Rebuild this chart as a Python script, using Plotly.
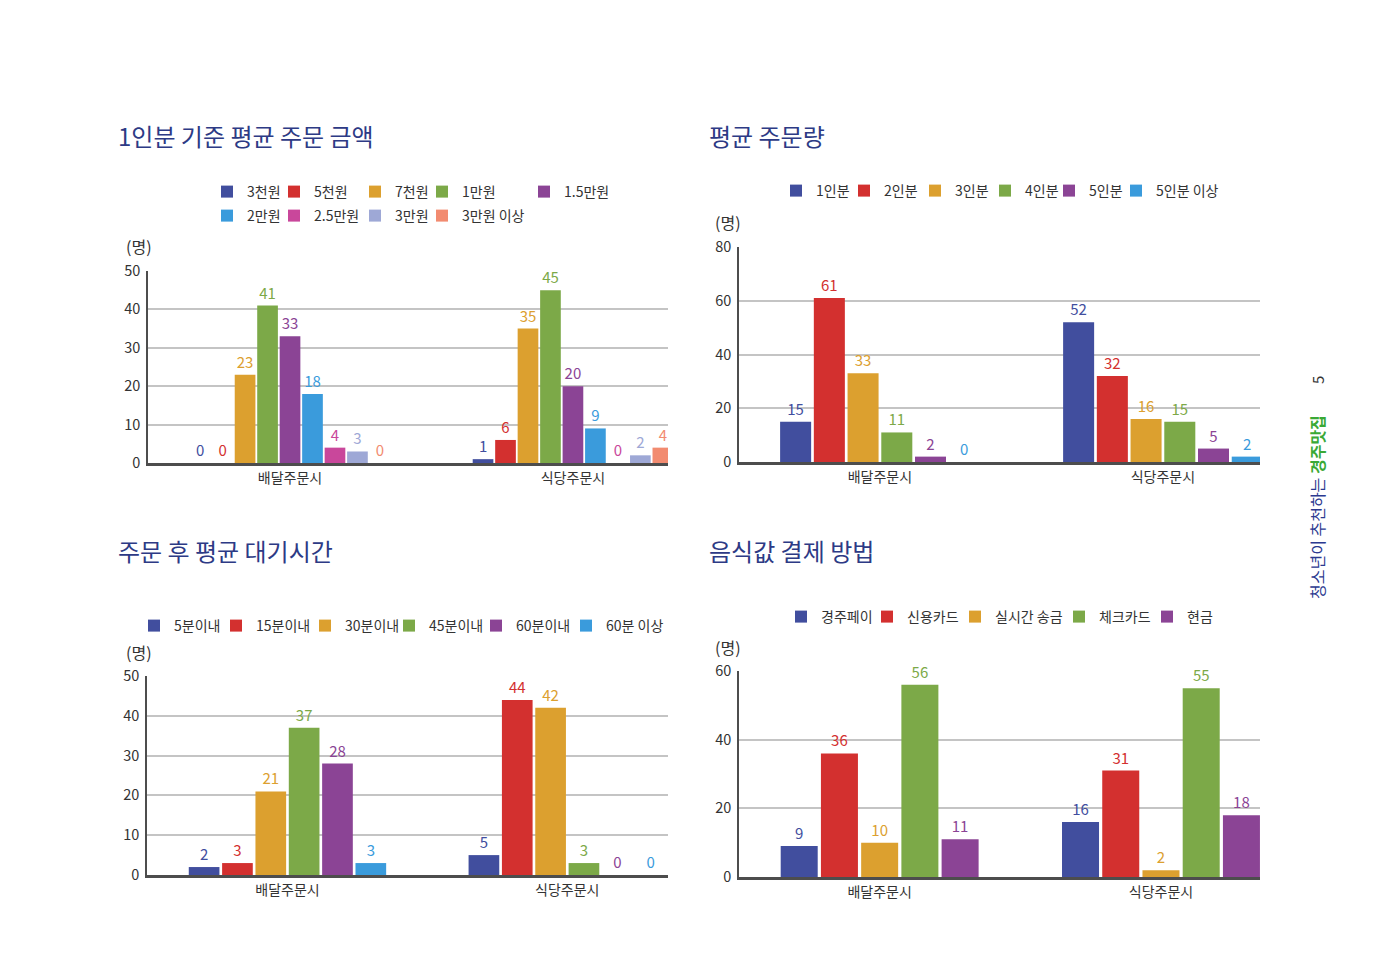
import plotly.graph_objects as go

W, H = 1377, 968
FONT = "Noto Sans CJK KR"

categories = ["배달주문시", "식당주문시"]

# Chart 1: 1인분 기준 평균 주문 금액
c1_names = ["3천원", "5천원", "7천원", "1만원", "1.5만원", "2만원", "2.5만원", "3만원", "3만원 이상"]
c1_values = [[0, 1], [0, 6], [23, 35], [41, 45], [33, 20], [18, 9], [4, 0], [3, 2], [0, 4]]
c1_colors = ["#414e9e", "#d3302f", "#dca02f", "#7ca948", "#8b4495", "#3a9bdc", "#c9479b", "#9ea8d6", "#f28b70"]

# Chart 2: 평균 주문량
c2_names = ["1인분", "2인분", "3인분", "4인분", "5인분", "5인분 이상"]
c2_values = [[15, 52], [61, 32], [33, 16], [11, 15], [2, 5], [0, 2]]
c2_colors = ["#414e9e", "#d3302f", "#dca02f", "#7ca948", "#8b4495", "#3a9bdc"]

# Chart 3: 주문 후 평균 대기시간
c3_names = ["5분이내", "15분이내", "30분이내", "45분이내", "60분이내", "60분 이상"]
c3_values = [[2, 5], [3, 44], [21, 42], [37, 3], [28, 0], [3, 0]]
c3_colors = ["#414e9e", "#d3302f", "#dca02f", "#7ca948", "#8b4495", "#3a9bdc"]

# Chart 4: 음식값 결제 방법
c4_names = ["경주페이", "신용카드", "실시간 송금", "체크카드", "현금"]
c4_values = [[9, 16], [36, 31], [10, 2], [56, 55], [11, 18]]
c4_colors = ["#414e9e", "#d3302f", "#dca02f", "#7ca948", "#8b4495"]

titles = ["1인분 기준 평균 주문 금액", "평균 주문량", "주문 후 평균 대기시간", "음식값 결제 방법"]
y_maxes = [50, 80, 50, 60]
y_dticks = [10, 20, 10, 20]


def px_x(p):
    return p / W


def px_y(p):
    return 1 - p / H


NAVY = "#2d3a85"

# legend marker centres (pixels) for each chart's items
legend_pos = [
    [(231, 192), (298, 192), (379, 192), (446, 192), (548, 192),
     (231, 216), (298, 216), (379, 216), (446, 216)],
    [(800, 191), (868, 191), (939, 191), (1009, 191), (1073, 191), (1140, 191)],
    [(158, 626), (240, 626), (329, 626), (413, 626), (500, 626), (590, 626)],
    [(805, 617), (891, 617), (979, 617), (1083, 617), (1171, 617)],
]

fig = go.Figure()

charts = [
    (c1_names, c1_values, c1_colors),
    (c2_names, c2_values, c2_colors),
    (c3_names, c3_values, c3_colors),
    (c4_names, c4_values, c4_colors),
]

layout = dict(
    width=W, height=H,
    margin=dict(l=0, r=0, t=0, b=0, autoexpand=False),
    paper_bgcolor="white", plot_bgcolor="white",
    barmode="group", bargap=0.285, bargroupgap=0.08,
    font=dict(family=FONT, color="#333333"),
)

legend_common = dict(
    orientation="h", xanchor="left", yanchor="middle",
    font=dict(size=14, color="#333333", family=FONT),
    bgcolor="rgba(0,0,0,0)", itemwidth=30,
    itemclick=False, itemdoubleclick=False,
)

leg_idx = 0
for ci, (names, values, colors) in enumerate(charts):
    ax = "" if ci == 0 else str(ci + 1)
    n = len(names)
    for si, (nm, vals, col) in enumerate(zip(names, values, colors)):
        leg_idx += 1
        key = "legend" if leg_idx == 1 else "legend" + str(leg_idx)
        mx, my = legend_pos[ci][si]
        d = dict(legend_common)
        d.update(x=px_x(mx - 24), y=px_y(my))
        layout[key] = d
        fig.add_trace(go.Bar(
            x=categories, y=vals, name=nm,
            marker=dict(color=col, line=dict(width=0)),
            text=[str(v) for v in vals], textposition="outside",
            textangle=0, constraintext="none",
            textfont=dict(color=col, size=15, family=FONT),
            cliponaxis=(si == n - 1),
            xaxis="x" + ax, yaxis="y" + ax, legend=key,
            showlegend=True, hoverinfo="skip",
        ))

# plot areas in pixels: (left, right, top, bottom)
areas = [
    (148, 668, 271, 463),
    (739, 1260, 247, 462),
    (147, 668, 676, 875),
    (739, 1260, 671, 877),
]
x_ranges = [[-0.502, 1.336], [-0.498, 1.343], [-0.502, 1.36], [-0.5, 1.352]]

for ci, (l, r, t, b) in enumerate(areas):
    ax = "" if ci == 0 else str(ci + 1)
    layout["xaxis" + ax] = dict(
        domain=[px_x(l), px_x(r)], anchor="y" + ax,
        type="category", range=x_ranges[ci],
        showline=True, linecolor="#4d4d4d", linewidth=3,
        showgrid=False, ticks="", fixedrange=True, automargin=False,
        tickfont=dict(size=14, color="#333333", family=FONT),
    )
    layout["yaxis" + ax] = dict(
        domain=[px_y(b), px_y(t)], anchor="x" + ax,
        range=[0, y_maxes[ci]], dtick=y_dticks[ci], tick0=0,
        showline=True, linecolor="#4d4d4d", linewidth=1.5,
        showgrid=True, gridcolor="#c4c4c4", gridwidth=2,
        zeroline=False, ticks="", ticklabelstandoff=3, automargin=False,
        tickfont=dict(size=14.5, color="#333333", family=FONT),
    )

annotations = []
title_pos = [(116, 136), (707, 136), (116, 550), (707, 550)]
for (tx, ty), tt in zip(title_pos, titles):
    annotations.append(dict(
        x=px_x(tx), y=px_y(ty), xref="paper", yref="paper",
        xanchor="left", yanchor="middle", showarrow=False,
        text=tt, font=dict(size=24, color=NAVY, family=FONT),
    ))
unit_pos = [(124, 246), (713, 222), (124, 652), (713, 647)]
for ux, uy in unit_pos:
    annotations.append(dict(
        x=px_x(ux), y=px_y(uy), xref="paper", yref="paper",
        xanchor="left", yanchor="middle", showarrow=False,
        text="(명)", font=dict(size=16, color="#333333", family=FONT),
    ))
annotations.append(dict(
    x=px_x(1317), y=px_y(507), xref="paper", yref="paper",
    xanchor="center", yanchor="middle", showarrow=False, textangle=-90,
    text="<span style='color:#2b3990'>청소년이 추천하는 </span><b><span style='color:#3aa935'>경주맛집</span></b>",
    font=dict(size=16, family=FONT),
))
annotations.append(dict(
    x=px_x(1317), y=px_y(380), xref="paper", yref="paper",
    xanchor="center", yanchor="middle", showarrow=False, textangle=-90,
    text="5", font=dict(size=15, color="#333333", family=FONT),
))
layout["annotations"] = annotations

fig.update_layout(**layout)
fig.write_html("out.html", config={"displayModeBar": False})
